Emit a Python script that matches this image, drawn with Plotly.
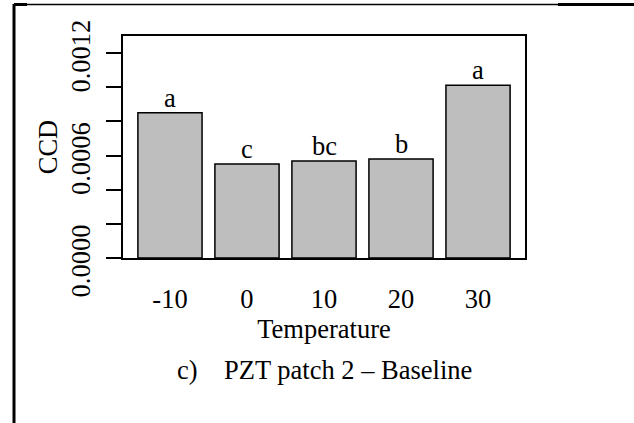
import plotly.graph_objects as go

# ---- data ----
temperatures = ["-10", "0", "10", "20", "30"]
ccd_values = [0.000851, 0.000550, 0.000568, 0.000580, 0.001011]
group_letters = ["a", "c", "bc", "b", "a"]
y_tick_values = [0.0, 0.0002, 0.0004, 0.0006, 0.0008, 0.0010, 0.0012]
y_tick_labels = ["0.0000", "", "", "0.0006", "", "", "0.0012"]
x_title = "Temperature"
y_title = "CCD"
caption = "c)\u00a0\u00a0\u00a0\u00a0PZT patch 2 \u2013 Baseline"

W, H = 634, 423
ML, MR, MT, MB = 123, 109, 36, 165
PW, PH = W - ML - MR, H - MT - MB
FONT = "Liberation Serif"
FS = 26.5


def px_x(px):
    return (px - ML) / PW


def px_y(py):
    return (H - MB - py) / PH


fig = go.Figure()
fig.add_trace(go.Bar(
    x=temperatures, y=ccd_values,
    marker=dict(color="#bebebe", line=dict(color="black", width=1.5)),
    hoverinfo="skip", showlegend=False,
))

for i, (v, lab) in enumerate(zip(ccd_values, group_letters)):
    fig.add_annotation(x=i, y=v, text=lab, showarrow=False, xref="x", yref="y",
                       yanchor="bottom", yshift=-2,
                       font=dict(family=FONT, size=FS, color="black"))

fig.add_annotation(x=0.5, y=px_y(370), xref="paper", yref="paper", text=caption,
                   showarrow=False, xanchor="center", yanchor="middle",
                   font=dict(family=FONT, size=FS, color="black"))

# page frame lines
line = dict(color="black", width=3)
fig.add_shape(type="line", xref="paper", yref="paper", x0=px_x(14), x1=px_x(14),
              y0=px_y(4), y1=px_y(430), line=line)
fig.add_shape(type="line", xref="paper", yref="paper", x0=px_x(14), x1=px_x(558),
              y0=px_y(4.5), y1=px_y(4.5), line=dict(color="black", width=1.5))
fig.add_shape(type="line", xref="paper", yref="paper", x0=px_x(14), x1=px_x(27),
              y0=px_y(4.5), y1=px_y(4.5), line=line)
fig.add_shape(type="line", xref="paper", yref="paper", x0=px_x(558), x1=px_x(640),
              y0=px_y(4.5), y1=px_y(4.5), line=line)

fig.update_layout(
    width=W, height=H,
    margin=dict(l=ML, r=MR, t=MT, b=MB, pad=0, autoexpand=False),
    paper_bgcolor="white", plot_bgcolor="white",
    bargap=0.1667,
    font=dict(family=FONT, size=FS, color="black"),
)
fig.update_xaxes(
    type="category", automargin=False,
    range=[-0.61, 4.61], showline=True, linecolor="black", linewidth=1.5, mirror=True,
    ticks="", showgrid=False, zeroline=False,
    tickfont=dict(family=FONT, size=FS), ticklabelstandoff=16,
    title=dict(text=x_title, font=dict(family=FONT, size=FS), standoff=0),
)
fig.update_yaxes(
    automargin=False,
    range=[0, 0.0013], showline=True, linecolor="black", linewidth=1.5, mirror=True,
    ticks="outside", ticklen=15, tickwidth=1.5, tickcolor="black",
    tickvals=y_tick_values, ticktext=y_tick_labels, tickangle=-90,
    showgrid=False, zeroline=False,
    tickfont=dict(family=FONT, size=FS), ticklabelstandoff=6, ticklabelshift=7,
    title=dict(text=y_title, font=dict(family=FONT, size=FS), standoff=0),
)

fig.write_html("out.html")
